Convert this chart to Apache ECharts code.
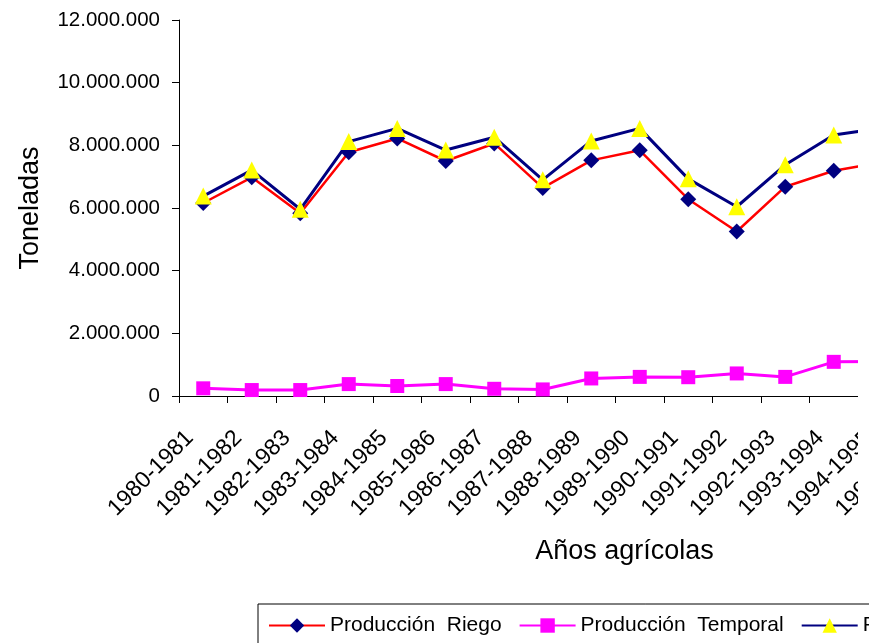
<!DOCTYPE html>
<html>
<head>
<meta charset="utf-8">
<script src="https://cdn.jsdelivr.net/npm/echarts@6/dist/echarts.min.js"></script>
<style>
html,body{margin:0;padding:0;background:#fff;overflow:hidden;width:869px;height:643px;}
#wrap{position:relative;width:869px;height:643px;overflow:hidden;}
#c{position:absolute;left:0;top:0;width:1100px;height:643px;}
#cut{position:absolute;left:858px;top:0;width:11px;height:600px;background:#fff;}
</style>
</head>
<body>
<div id="wrap"><div id="c"></div><div id="cut"></div></div>
<script>
var categories = ["1980-1981","1981-1982","1982-1983","1983-1984","1984-1985","1985-1986","1986-1987","1987-1988","1988-1989","1989-1990","1990-1991","1991-1992","1992-1993","1993-1994","1994-1995","1995-1996","1996-1997","1997-1998"];
var riego    = [6160000, 6980000, 5830000, 7780000, 8220000, 7500000, 8060000, 6640000, 7520000, 7840000, 6280000, 5250000, 6680000, 7190000, 7460000, null, null, null];
var temporal = [245000, 190000, 190000, 380000, 320000, 380000, 230000, 210000, 560000, 610000, 600000, 720000, 610000, 1090000, 1100000, null, null, null];
var total    = [6380000, 7210000, 5960000, 8120000, 8540000, 7850000, 8260000, 6900000, 8140000, 8540000, 6930000, 6040000, 7380000, 8330000, 8550000, null, null, null];
var seriesNames = ["Producción  Riego", "Producción  Temporal", "Producción  Total"];
var yTicks = { min: 0, max: 12000000, interval: 2000000 };

var FONT = 'Arial, "Liberation Sans", sans-serif';
function fmt(v){ return String(v).replace(/\B(?=(\d{3})+(?!\d))/g, '.'); }

var chart = echarts.init(document.getElementById('c'), null, {renderer:'canvas'});
chart.setOption({
  animation: false,
  backgroundColor: '#fff',
  textStyle: { fontFamily: FONT },
  grid: { left: 179, top: 20, height: 376, width: 873 },
  legend: {
    left: 258, top: 604,
    orient: 'horizontal',
    padding: [11, 10, 13, 10],
    itemGap: 17,
    itemWidth: 56,
    itemHeight: 18,
    borderColor: '#000', borderWidth: 1,
    textStyle: { fontSize: 21, color: '#000', fontFamily: FONT },
    data: seriesNames
  },
  xAxis: {
    type: 'category',
    data: categories,
    boundaryGap: true,
    name: 'Años agrícolas',
    nameLocation: 'middle',
    nameGap: 142,
    nameTextStyle: { fontSize: 27, color: '#000', fontFamily: FONT, padding: [0,0,0,18] },
    axisLine: { lineStyle: { color: '#000', width: 1 } },
    axisTick: { show: true, alignWithLabel: false, length: 7, lineStyle: { color: '#000' } },
    axisLabel: { interval: 0, rotate: 45, fontSize: 23, color: '#000', margin: 25, padding: [0, 19, 0, 0], fontFamily: FONT },
    splitLine: { show: false }
  },
  yAxis: {
    type: 'value',
    min: yTicks.min, max: yTicks.max, interval: yTicks.interval,
    name: 'Toneladas',
    nameLocation: 'middle',
    nameGap: 135,
    nameTextStyle: { fontSize: 27, color: '#000', fontFamily: FONT },
    axisLine: { show: true, lineStyle: { color: '#000', width: 1 } },
    axisTick: { show: true, length: 7, lineStyle: { color: '#000' } },
    axisLabel: { fontSize: 20.5, color: '#000', margin: 19, formatter: fmt, fontFamily: FONT },
    splitLine: { show: false }
  },
  series: [
    { name: seriesNames[0], type: 'line', data: riego, symbol: 'diamond', symbolSize: 16,
      lineStyle: { color: '#FF0000', width: 2.5 }, itemStyle: { color: '#000080' }, connectNulls: false },
    { name: seriesNames[1], type: 'line', data: temporal, symbol: 'rect', symbolSize: 14,
      lineStyle: { color: '#FF00FF', width: 3 }, itemStyle: { color: '#FF00FF' } },
    { name: seriesNames[2], type: 'line', data: total, symbol: 'triangle', symbolSize: 17,
      lineStyle: { color: '#000080', width: 3 }, itemStyle: { color: '#FFFF00' } }
  ]
});
</script>
</body>
</html>
